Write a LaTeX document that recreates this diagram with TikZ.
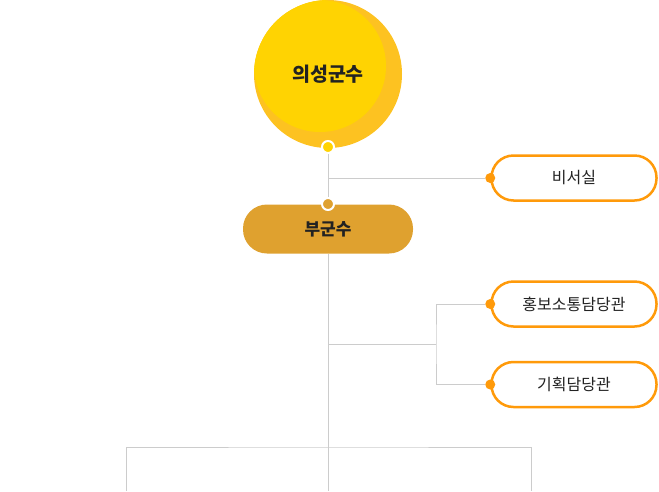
\documentclass[tikz,border=0pt]{standalone}
\usepackage{fontspec}
\newfontfamily\kr{Noto Sans CJK KR}
\usetikzlibrary{positioning}
\definecolor{chiefout}{HTML}{FDC221}
\definecolor{chiefin}{HTML}{FFD302}
\definecolor{vicefill}{HTML}{DFA12F}
\definecolor{orgline}{HTML}{FF9A0A}
\definecolor{linegray}{HTML}{CCCCCC}
\definecolor{textdark}{HTML}{222222}

\begin{document}
\begin{tikzpicture}[x=1pt,y=-1pt,
	conn/.style={draw=linegray,line width=1pt},
	ringdot/.style={circle,draw=white,line width=2pt,minimum size=12pt,inner sep=0pt},
	orgdot/.style={circle,fill=orgline,minimum size=10pt,inner sep=0pt},
	officebox/.style={draw=orgline,line width=2.5pt,fill=white,rounded corners=22pt,
		minimum width=165pt,minimum height=45pt,inner sep=0pt,
		font=\kr\fontsize{16}{19}\selectfont,text=textdark}]
	\useasboundingbox (0,0) rectangle (659,491);
	% head of the county
	\node[circle,fill=chiefout,minimum size=148pt,inner sep=0pt,
		path picture={\fill[chiefin] ([xshift=-8pt,yshift=8pt]path picture bounding box.center) circle (66pt);},
		font=\kr\bfseries\fontsize{19.5}{22}\selectfont,text=textdark] (chief) at (328,74) {의성군수};
	\node[ringdot,fill=chiefin] (chiefdot) at (328,147) {};
	% deputy
	\node[fill=vicefill,rounded corners=24pt,minimum width=170pt,minimum height=49pt,inner sep=0pt,
		font=\kr\bfseries\fontsize{17}{20}\selectfont,text=textdark] (vice) at (328,229) {부군수};
	\node[ringdot,fill=vicefill] (vicedot) at (328,204) {};
	% offices
	\node[officebox] (sec) at (574,178) {비서실};
	\node[orgdot] (secdot) at (sec.west) {};
	\node[officebox] (pr) at (574,304) {홍보소통담당관};
	\node[officebox,below=33pt of pr] (plan) {기획담당관};
	\node[orgdot] (prdot) at (pr.west) {};
	\node[orgdot] (plandot) at (plan.west) {};
	% connectors
	\coordinate (secjoin) at (328,178);
	\coordinate (midjoin) at (328,344);
	\coordinate (fork) at (436,344);
	\coordinate (lowjoin) at (328,447);
	\coordinate (leftend) at (126,491);
	\coordinate (midend) at (328,491);
	\coordinate (rightend) at (531,491);
	\draw[conn] (chiefdot) -- (vicedot);
	\draw[conn] (secjoin) -- (secdot);
	\draw[conn] (vice.south) -- (midend);
	\draw[conn] (midjoin) -- (fork);
	\draw[conn] (prdot) -| (fork) |- (plandot);
	\draw[conn] (leftend) |- (lowjoin) -| (rightend);
\end{tikzpicture}
\end{document}
